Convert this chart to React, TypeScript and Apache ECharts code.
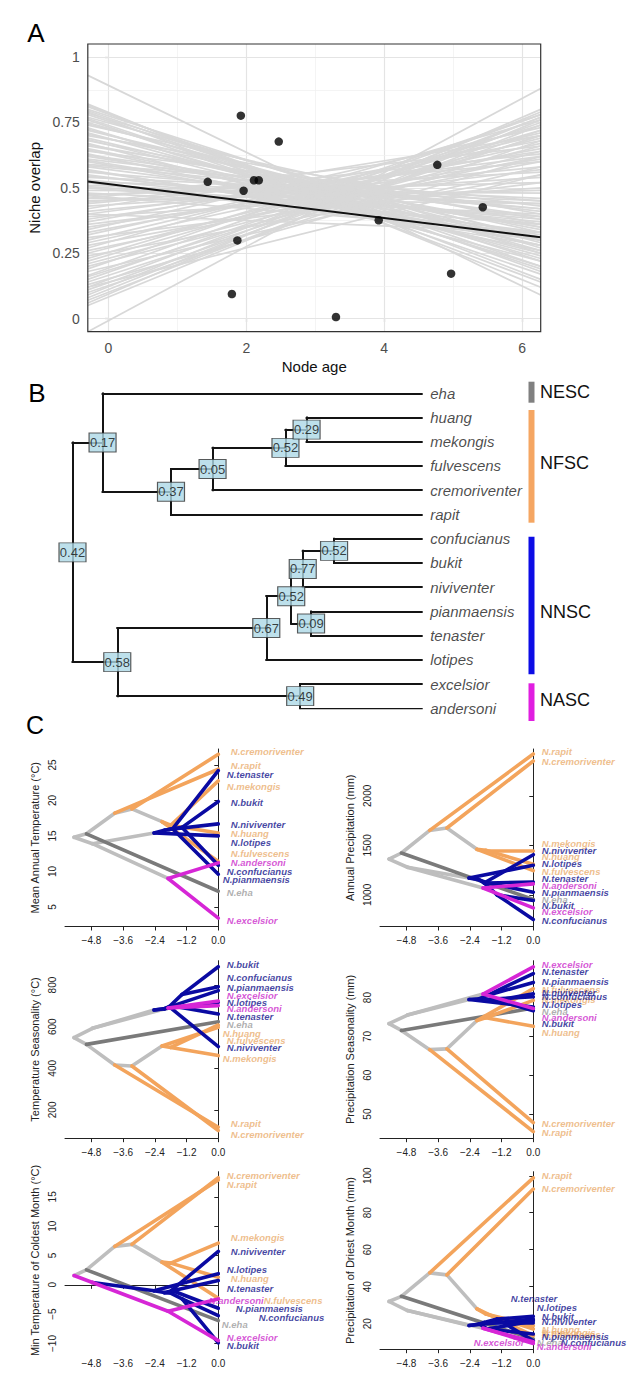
import React, { useEffect, useRef } from "react";
import * as echarts from "echarts";

const FONT = "'Liberation Sans', Arial, Helvetica, sans-serif";
const NARROW_FONT = "'Liberation Sans Narrow', 'Liberation Sans', Arial, sans-serif";

/* ================= Panel A : niche overlap vs node age ================= */
const A_NODE_AGE = [1.44, 1.92, 1.96, 1.87, 1.79, 2.11, 2.18, 2.47, 3.3, 3.92, 4.77, 4.97, 5.43];
const A_NICHE_OVERLAP = [0.523, 0.776, 0.489, 0.299, 0.094, 0.529, 0.529, 0.677, 0.006, 0.376, 0.588, 0.172, 0.426];
const A_FIT_X = [-0.3, 6.27];
const A_FIT_Y = [0.524, 0.311];
// bootstrap regression lines: value at left edge / right edge
const A_BOOT_LEFT = [
  0.93, 0.82, 0.81, 0.8, 0.79, 0.78, 0.77, 0.76, 0.75, 0.74, 0.73, 0.72, 0.71, 0.7, 0.69, 0.68, 0.67, 0.66, 0.65, 0.64,
  0.63, 0.62, 0.61, 0.6, 0.59, 0.58, 0.57, 0.56, 0.55, 0.54, 0.53, 0.52, 0.51, 0.5, 0.49, 0.48, 0.47, 0.46, 0.4,
  0.815, 0.795, 0.785, 0.765, 0.745, 0.725, 0.705, 0.685, 0.665, 0.645, 0.625, 0.605, 0.585, 0.565, 0.545, 0.525, 0.505,
  -0.05, 0.06, 0.07, 0.09, 0.1, 0.12, 0.13, 0.15, 0.16, 0.18, 0.19, 0.21, 0.22, 0.24, 0.25, 0.27, 0.28, 0.3, 0.31, 0.33,
  0.34, 0.36, 0.37, 0.39, 0.4, 0.42, 0.43, 0.44, 0.45, 0.46, 0.47, 0.12,
  0.08, 0.11, 0.14, 0.165, 0.2, 0.23, 0.26, 0.29, 0.32, 0.35, 0.38, 0.41, 0.445, 0.475, 0.05,
];
const A_BOOT_RIGHT = [
  0.09, 0.12, 0.18, 0.25, 0.14, 0.22, 0.3, 0.17, 0.26, 0.36, 0.2, 0.31, 0.24, 0.4, 0.28, 0.34, 0.22, 0.38, 0.3, 0.43,
  0.26, 0.35, 0.41, 0.3, 0.45, 0.36, 0.28, 0.42, 0.33, 0.46, 0.38, 0.3, 0.44, 0.36, 0.48, 0.4, 0.33, 0.44, 0.33,
  0.15, 0.2, 0.27, 0.19, 0.29, 0.23, 0.33, 0.25, 0.35, 0.28, 0.39, 0.32, 0.42, 0.31, 0.37, 0.45, 0.39,
  0.88, 0.8, 0.74, 0.79, 0.68, 0.77, 0.62, 0.75, 0.7, 0.58, 0.78, 0.66, 0.72, 0.55, 0.69, 0.76, 0.6, 0.71, 0.52, 0.65,
  0.73, 0.57, 0.68, 0.5, 0.62, 0.7, 0.54, 0.6, 0.49, 0.66, 0.56, 0.55,
  0.77, 0.72, 0.7, 0.78, 0.64, 0.74, 0.62, 0.67, 0.7, 0.61, 0.64, 0.58, 0.63, 0.52, 0.76,
];
const A_X_TICKS = [0, 2, 4, 6];
const A_X_MINOR = [1, 3, 5];
const A_Y_TICKS = [0, 0.25, 0.5, 0.75, 1];
const A_Y_MINOR = [0.125, 0.375, 0.625, 0.875];
const A_X_RANGE = [-0.3, 6.27];
const A_Y_RANGE = [-0.05, 1.05];

/* ================= Tree (panels B and C) ================= */
const NODES = ["root", "n017", "n037", "n005", "n052a", "n029", "n058", "n067", "n052b", "n077", "n052c", "n009", "n049"];
const NODE_AGE = [5.46, 4.99, 3.92, 3.27, 2.13, 1.8, 4.76, 2.43, 2.04, 1.86, 1.37, 1.73, 1.9];
const NODE_OVERLAP = [0.42, 0.17, 0.37, 0.05, 0.52, 0.29, 0.58, 0.67, 0.52, 0.77, 0.52, 0.09, 0.49];
const TIPS = [
  "eha", "huang", "mekongis", "fulvescens", "cremoriventer", "rapit", "confucianus",
  "bukit", "niviventer", "pianmaensis", "tenaster", "lotipes", "excelsior", "andersoni",
];
const TIP_CLADE = ["NESC", "NFSC", "NFSC", "NFSC", "NFSC", "NFSC", "NNSC", "NNSC", "NNSC", "NNSC", "NNSC", "NNSC", "NASC", "NASC"];
const EDGES: [string, string][] = [
  ["root", "n017"], ["root", "n058"], ["n017", "eha"], ["n017", "n037"], ["n037", "n005"], ["n037", "rapit"],
  ["n005", "n052a"], ["n005", "cremoriventer"], ["n052a", "n029"], ["n052a", "fulvescens"], ["n029", "huang"],
  ["n029", "mekongis"], ["n058", "n067"], ["n058", "n049"], ["n067", "n052b"], ["n067", "lotipes"],
  ["n052b", "n077"], ["n052b", "n009"], ["n077", "n052c"], ["n077", "niviventer"], ["n052c", "confucianus"],
  ["n052c", "bukit"], ["n009", "pianmaensis"], ["n009", "tenaster"], ["n049", "excelsior"], ["n049", "andersoni"],
];
const CLADES = ["NESC", "NFSC", "NNSC", "NASC"];

/* ================= Panel C : trait values (nodes in NODES order, tips in TIPS order) ================= */
const MAT_NODE = [14.8, 15.3, 18.2, 18.8, 17.0, 16.5, 13.9, 15.4, 15.8, 15.9, 16.2, 16.0, 9.0];
const MAT_TIP = [7.2, 15.4, 22.75, 11.4, 26.5, 24.4, 10.85, 19.85, 16.7, 9.6, 24.2, 15.0, 3.4, 11.2];
const MAT_LABEL = [7.0, 15.4, 21.9, 12.5, 26.87, 24.9, 9.95, 19.75, 16.6, 8.8, 23.6, 14.1, 3.1, 11.3];
const MAT_TICKS = [5, 10, 15, 20, 25];
const MAT_RANGE = [2.23, 27.25];

const AP_NODE = [1362, 1423, 1651, 1675, 1460, 1450, 1279, 1170, 1150, 1120, 1000, 1120, 1070];
const AP_TIP = [953, 1310, 1450, 1245, 2352, 2423, 752, 943, 1406, 1027, 1131, 1299, 869, 1111];
const AP_LABEL = [953, 1389, 1517, 1238, 2346, 2446, 745, 896, 1450, 1020, 1161, 1315, 829, 1094];
const AP_TICKS = [1000, 1500, 2000];
const AP_RANGE = [681, 2473];

const TS_NODE = [547, 515, 416, 411, 507, 500, 592, 680, 686, 696, 755, 700, 690];
const TS_TIP = [624, 608, 461, 597, 101, 117, 792, 888, 504, 773, 661, 717, 723, 701];
const TS_LABEL = [608, 568, 446, 533, 82, 136, 835, 901, 499, 787, 650, 718, 752, 688];
const TS_TICKS = [200, 400, 600, 800];
const TS_RANGE = [64, 917];

const PS_NODE = [73.3, 71.55, 66.6, 66.8, 74.1, 74.8, 75.5, 79.5, 79.7, 79.5, 79.3, 80.6, 80.9];
const PS_TIP = [77.3, 72.6, 79.3, 82.3, 47.8, 45.5, 81.0, 76.6, 80.2, 83.9, 86.2, 77.6, 87.9, 77.2];
const PS_LABEL = [76.5, 71.0, 79.5, 82.1, 47.6, 45.3, 80.4, 73.4, 81.2, 84.1, 86.6, 78.2, 88.6, 75.0];
const PS_TICKS = [50, 60, 70, 80];
const PS_RANGE = [43.8, 89.5];

const MT_NODE = [1.58, 2.56, 6.55, 6.9, 3.87, 3.7, 0.4, -1.0, -1.3, -1.3, -2.4, -1.0, -4.5];
const MT_TIP = [-6.1, 1.3, 7.1, -2.3, 18.25, 17.85, -5.26, -9.9, 5.7, -4.0, 0.73, 1.9, -9.5, -2.4];
const MT_LABEL = [-6.7, 1.13, 8.15, -2.6, 18.7, 17.1, -5.5, -10.3, 5.6, -4.1, -0.7, 2.6, -9.0, -2.6];
const MT_TICKS = [-10, -5, 0, 5, 10, 15];
const MT_RANGE = [-10.97, 19.28];

const PD_NODE = [32.0, 34.8, 47.5, 46.4, 28.0, 25.3, 27.1, 19.0, 19.8, 20.7, 22.5, 17.1, 17.5];
const PD_TIP = [11.7, 18.9, 17.1, 13.5, 92.8, 98.9, 10.8, 24.0, 20.7, 14.4, 21.5, 22.5, 10.2, 9.3];
const PD_LABEL = [9.9, 17.1, 15.3, 14.2, 93.1, 100.4, 9.9, 24.0, 21.3, 12.9, 33.4, 28.9, 9.9, 7.5];
const PD_TICKS = [20, 40, 60, 80, 100];
const PD_RANGE = [6.2, 102.2];

const C_X_TICKS = [-4.8, -3.6, -2.4, -1.2, 0];
const C_X_RANGE = [-5.8, 0];

/* ================= styles / layout ================= */
const LINE_COLOR: Record<string, string> = {
  gray: "#BEBEBE", NESC: "#7A7A7A", NFSC: "#F3A45C", NNSC: "#0A0AA2", NASC: "#D626D6",
};
const LABEL_COLOR: Record<string, string> = {
  NESC: "#9C9C9C", NFSC: "#EAAE70", NNSC: "#14148C", NASC: "#CC2ECC",
};
const BAR_COLOR: Record<string, string> = {
  NESC: "#808080", NFSC: "#F5A662", NNSC: "#0C0CE6", NASC: "#E01EE0",
};
const INTERNAL_EDGE_CLASS: Record<string, string> = {
  n017: "gray", n037: "gray", n005: "gray", n052a: "gray", n029: "NFSC", n058: "gray",
  n067: "gray", n052b: "NNSC", n077: "NNSC", n052c: "NNSC", n009: "NNSC", n049: "gray",
};
const DRAW_ORDER = ["gray", "NESC", "NFSC", "NNSC", "NASC"];

const PANELS = [
  { title: "Mean Annual Temperature (°C)", node: MAT_NODE, tip: MAT_TIP, label: MAT_LABEL, ticks: MAT_TICKS, range: MAT_RANGE,
    dx: { cremoriventer: 12, rapit: 12, bukit: 12, niviventer: 12, huang: 12, lotipes: 12, fulvescens: 12, andersoni: 12, pianmaensis: 4 } as Record<string, number>, override: {} as Record<string, string> },
  { title: "Annual Precipitation (mm)", node: AP_NODE, tip: AP_TIP, label: AP_LABEL, ticks: AP_TICKS, range: AP_RANGE,
    dx: {} as Record<string, number>, override: {} as Record<string, string> },
  { title: "Temperature Seasonality (°C)", node: TS_NODE, tip: TS_TIP, label: TS_LABEL, ticks: TS_TICKS, range: TS_RANGE,
    dx: { huang: 4, mekongis: 4, rapit: 12, cremoriventer: 12 } as Record<string, number>, override: {} as Record<string, string> },
  { title: "Precipitation Seasonality (mm)", node: PS_NODE, tip: PS_TIP, label: PS_LABEL, ticks: PS_TICKS, range: PS_RANGE,
    dx: {} as Record<string, number>, override: {} as Record<string, string> },
  { title: "Min Temperature of Coldest Month (°C)", node: MT_NODE, tip: MT_TIP, label: MT_LABEL, ticks: MT_TICKS, range: MT_RANGE,
    dx: { andersoni: -10, fulvescens: 45, pianmaensis: 17, confucianus: 40, mekongis: 12, niviventer: 12, huang: 12, eha: 3 } as Record<string, number>,
    override: { n058: "NASC", n049: "NASC", n067: "NNSC" } as Record<string, string> },
  { title: "Precipitation of Driest Month (mm)", node: PD_NODE, tip: PD_TIP, label: PD_LABEL, ticks: PD_TICKS, range: PD_RANGE,
    dx: { tenaster: -23, lotipes: 3, confucianus: 27, excelsior: -60, andersoni: 3, eha: 3 } as Record<string, number>, override: {} as Record<string, string> },
];

const C_LEFT = [65, 380];
const C_WIDTH = 153.3;
const C_TOP = [749, 960.7, 1171.7];
const C_HEIGHT = 177.5;

const B_LEFT = 72.5;
const B_TOP = 393.3;
const B_WIDTH = 349.2;
const B_HEIGHT = 315;
const B_BARS: [number, number][] = [[381.7, 402.7], [410, 522.7], [536.7, 674.3], [683.3, 721]];
const B_CLADE_TEXT_Y = [391.7, 463.3, 612, 700];

const minus = (v: number, digits?: number) => {
  const s = digits === undefined ? String(Math.abs(v)) : Math.abs(v).toFixed(digits);
  return v < 0 ? "\u2212" + s : s;
};

/* ================= helpers ================= */
const children: Record<string, string[]> = {};
EDGES.forEach(([p, c]) => {
  (children[p] = children[p] || []).push(c);
});
const isTip = (n: string) => TIPS.indexOf(n) >= 0;
const ageOf = (n: string) => (isTip(n) ? 0 : NODE_AGE[NODES.indexOf(n)]);
const rowOf = (n: string): number => {
  if (isTip(n)) return TIPS.indexOf(n);
  const ys = children[n].map(rowOf);
  return (Math.min(...ys) + Math.max(...ys)) / 2;
};
const cladeOfTip = (n: string) => TIP_CLADE[TIPS.indexOf(n)];

function buildOption() {
  const grid: any[] = [];
  const xAxis: any[] = [];
  const yAxis: any[] = [];
  const series: any[] = [];
  const graphic: any[] = [];

  /* ---------- A ---------- */
  const aLeft = 87.8, aTop = 44, aW = 452.9, aH = 287.7;
  grid.push({ left: aLeft, top: aTop, width: aW, height: aH, show: false, outerBoundsMode: "none", containLabel: false });
  xAxis.push({
    type: "value", gridIndex: 0, min: A_X_RANGE[0], max: A_X_RANGE[1],
    axisLine: { show: false }, splitLine: { show: false },
    axisTick: { show: true, customValues: A_X_TICKS, length: 4, lineStyle: { color: "#333", width: 1.1 } },
    axisLabel: { show: true, customValues: A_X_TICKS, formatter: (v: number) => String(v), fontSize: 14, color: "#4d4d4d", margin: 9, fontFamily: FONT },
    name: "Node age", nameLocation: "middle", nameGap: 27,
    nameTextStyle: { fontSize: 15, color: "#111", fontFamily: FONT },
  });
  yAxis.push({
    type: "value", gridIndex: 0, min: A_Y_RANGE[0], max: A_Y_RANGE[1],
    axisLine: { show: false }, splitLine: { show: false },
    axisTick: { show: true, customValues: A_Y_TICKS, length: 4, lineStyle: { color: "#333", width: 1.1 } },
    axisLabel: { show: true, customValues: A_Y_TICKS, formatter: (v: number) => String(v), fontSize: 14, color: "#4d4d4d", margin: 8, fontFamily: FONT },
    name: "Niche overlap", nameLocation: "middle", nameGap: 46,
    nameTextStyle: { fontSize: 15, color: "#111", fontFamily: FONT },
  });
  const gridSegs: any[] = [];
  A_X_TICKS.forEach((v) => gridSegs.push({ coords: [[v, A_Y_RANGE[0]], [v, A_Y_RANGE[1]]], lineStyle: { color: "#E4E4E4", width: 1.2 } }));
  A_X_MINOR.forEach((v) => gridSegs.push({ coords: [[v, A_Y_RANGE[0]], [v, A_Y_RANGE[1]]], lineStyle: { color: "#EFEFEF", width: 0.7 } }));
  A_Y_TICKS.forEach((v) => gridSegs.push({ coords: [[A_X_RANGE[0], v], [A_X_RANGE[1], v]], lineStyle: { color: "#E4E4E4", width: 1.2 } }));
  A_Y_MINOR.forEach((v) => gridSegs.push({ coords: [[A_X_RANGE[0], v], [A_X_RANGE[1], v]], lineStyle: { color: "#EFEFEF", width: 0.7 } }));
  series.push({ type: "lines", coordinateSystem: "cartesian2d", xAxisIndex: 0, yAxisIndex: 0, silent: true, z: 1, data: gridSegs, lineStyle: { opacity: 1 } });
  series.push({
    type: "lines", coordinateSystem: "cartesian2d", xAxisIndex: 0, yAxisIndex: 0, silent: true, z: 2, clip: true,
    lineStyle: { color: "#D8D8D8", width: 1.7, opacity: 1 },
    data: A_BOOT_LEFT.map((l, i) => ({ coords: [[A_FIT_X[0], l], [A_FIT_X[1], A_BOOT_RIGHT[i]]] })),
  });
  series.push({
    type: "line", xAxisIndex: 0, yAxisIndex: 0, silent: true, z: 3, symbol: "none",
    lineStyle: { color: "#111", width: 2 }, data: A_FIT_X.map((x, i) => [x, A_FIT_Y[i]]),
  });
  series.push({
    type: "scatter", xAxisIndex: 0, yAxisIndex: 0, silent: true, z: 4, symbolSize: 8.5,
    itemStyle: { color: "#000" }, data: A_NODE_AGE.map((x, i) => [x, A_NICHE_OVERLAP[i]]),
  });
  graphic.push({ type: "rect", z: 100, shape: { x: aLeft, y: aTop, width: aW, height: aH }, style: { fill: "transparent", stroke: "#333", lineWidth: 1.2 } });

  /* ---------- B ---------- */
  grid.push({ left: B_LEFT, top: B_TOP, width: B_WIDTH, height: B_HEIGHT, show: false, outerBoundsMode: "none", containLabel: false });
  xAxis.push({ type: "value", gridIndex: 1, min: -NODE_AGE[0], max: 0, show: false });
  yAxis.push({ type: "value", gridIndex: 1, min: 0, max: TIPS.length - 1, inverse: true, show: false });
  const treeSegs: any[] = [];
  NODES.forEach((n) => {
    const x = -ageOf(n);
    const ys = children[n].map(rowOf);
    treeSegs.push({ coords: [[x, Math.min(...ys)], [x, Math.max(...ys)]] });
    children[n].forEach((c) => treeSegs.push({ coords: [[x, rowOf(c)], [-ageOf(c), rowOf(c)]] }));
  });
  series.push({
    type: "lines", coordinateSystem: "cartesian2d", xAxisIndex: 1, yAxisIndex: 1, silent: true, z: 2,
    lineStyle: { color: "#141414", width: 2, opacity: 1, cap: "square" }, data: treeSegs,
  });
  series.push({
    type: "scatter", xAxisIndex: 1, yAxisIndex: 1, silent: true, z: 4, symbol: "rect", symbolSize: [27, 19],
    itemStyle: { color: "#ADD8E6", borderColor: "#333", borderWidth: 1 },
    label: { show: true, position: "inside", formatter: "{b}", fontSize: 13, color: "#111", fontFamily: NARROW_FONT },
    data: NODES.map((n, i) => ({ name: NODE_OVERLAP[i].toFixed(2), value: [-ageOf(n), rowOf(n)] })),
  });
  series.push({
    type: "scatter", xAxisIndex: 1, yAxisIndex: 1, silent: true, z: 4, symbolSize: 1,
    itemStyle: { color: "transparent" },
    label: { show: true, position: "right", distance: 8, formatter: "{b}", fontSize: 15, fontStyle: "italic", color: "#1c1c1c", fontFamily: FONT },
    data: TIPS.map((t, i) => ({ name: t, value: [0, i] })),
  });
  CLADES.forEach((c, k) => {
    graphic.push({ type: "rect", shape: { x: 528.5, y: B_BARS[k][0], width: 6, height: B_BARS[k][1] - B_BARS[k][0] }, style: { fill: BAR_COLOR[c] } });
    graphic.push({ type: "text", x: 540, y: B_CLADE_TEXT_Y[k], style: { text: c, fontSize: 18, fontFamily: FONT, fill: "#111", align: "left", verticalAlign: "middle" } });
  });

  /* ---------- C ---------- */
  PANELS.forEach((p, k) => {
    const gi = 2 + k;
    const col = k % 2;
    const row = Math.floor(k / 2);
    grid.push({ left: C_LEFT[col], top: C_TOP[row], width: C_WIDTH, height: C_HEIGHT, show: false, outerBoundsMode: "none", containLabel: false });
    xAxis.push({
      type: "value", gridIndex: gi, min: C_X_RANGE[0], max: C_X_RANGE[1],
      axisLine: { show: true, lineStyle: { color: "#222", width: 1 } }, splitLine: { show: false },
      axisTick: { show: true, customValues: C_X_TICKS, length: 4, lineStyle: { color: "#222", width: 1 } },
      axisLabel: { show: true, customValues: C_X_TICKS, formatter: (v: number) => (Math.abs(v) < 1e-9 ? "0.0" : minus(v, 1)), fontSize: 10, color: "#222", margin: 9, fontFamily: FONT },
    });
    yAxis.push({
      type: "value", gridIndex: gi, min: p.range[0], max: p.range[1],
      axisLine: { show: true, lineStyle: { color: "#222", width: 1 } }, splitLine: { show: false },
      axisTick: { show: true, customValues: p.ticks, length: 4, lineStyle: { color: "#222", width: 1 } },
      axisLabel: { show: true, customValues: p.ticks, rotate: 90, formatter: (v: number) => minus(v), fontSize: 10, color: "#222", margin: 8, fontFamily: FONT },
      name: p.title, nameLocation: "middle", nameGap: 25,
      nameTextStyle: { fontSize: 11, color: "#222", fontFamily: FONT },
    });
    const valOf = (n: string) => (isTip(n) ? p.tip[TIPS.indexOf(n)] : p.node[NODES.indexOf(n)]);
    const classOf = (c: string) => (isTip(c) ? cladeOfTip(c) : p.override[c] || INTERNAL_EDGE_CLASS[c]);
    const segs: any[] = [];
    DRAW_ORDER.forEach((cls) => {
      EDGES.forEach(([a, b]) => {
        if (classOf(b) !== cls) return;
        segs.push({
          coords: [[-ageOf(a), valOf(a)], [-ageOf(b), valOf(b)]],
          lineStyle: { color: LINE_COLOR[cls] },
        });
      });
    });
    series.push({
      type: "lines", coordinateSystem: "cartesian2d", xAxisIndex: gi, yAxisIndex: gi, silent: true, z: 2,
      lineStyle: { width: 3.6, opacity: 1, cap: "round" }, data: segs,
    });
    series.push({
      type: "scatter", xAxisIndex: gi, yAxisIndex: gi, silent: true, z: 5, symbolSize: 1,
      itemStyle: { color: "transparent" },
      label: { show: true, position: "right", distance: 0, formatter: "{b}", fontSize: 9.5, fontWeight: "bold", fontStyle: "italic", fontFamily: FONT },
      data: TIPS.map((t, i) => ({
        name: "N." + t,
        value: [0, p.label[i]],
        label: { color: LABEL_COLOR[cladeOfTip(t)], offset: [p.dx[t] !== undefined ? p.dx[t] : 8, 0] },
      })),
    });
  });

  /* ---------- panel letters ---------- */
  graphic.push({ type: "text", x: 36, y: 33, style: { text: "A", fontSize: 26, fontFamily: FONT, fill: "#000", align: "center", verticalAlign: "middle" } });
  graphic.push({ type: "text", x: 37, y: 393, style: { text: "B", fontSize: 26, fontFamily: FONT, fill: "#000", align: "center", verticalAlign: "middle" } });
  graphic.push({ type: "text", x: 35, y: 725, style: { text: "C", fontSize: 25, fontFamily: FONT, fill: "#000", align: "center", verticalAlign: "middle" } });

  return {
    animation: false,
    backgroundColor: "#ffffff",
    textStyle: { fontFamily: FONT },
    grid, xAxis, yAxis, series,
    graphic: { elements: graphic },
  };
}

export default function App() {
  const ref = useRef<HTMLDivElement>(null);
  useEffect(() => {
    document.body.style.margin = "0";
    const chart = echarts.init(ref.current as HTMLDivElement, undefined, { renderer: "svg" });
    chart.setOption(buildOption() as any);
    return () => chart.dispose();
  }, []);
  return <div ref={ref} style={{ width: 640, height: 1399, background: "#fff" }} />;
}
